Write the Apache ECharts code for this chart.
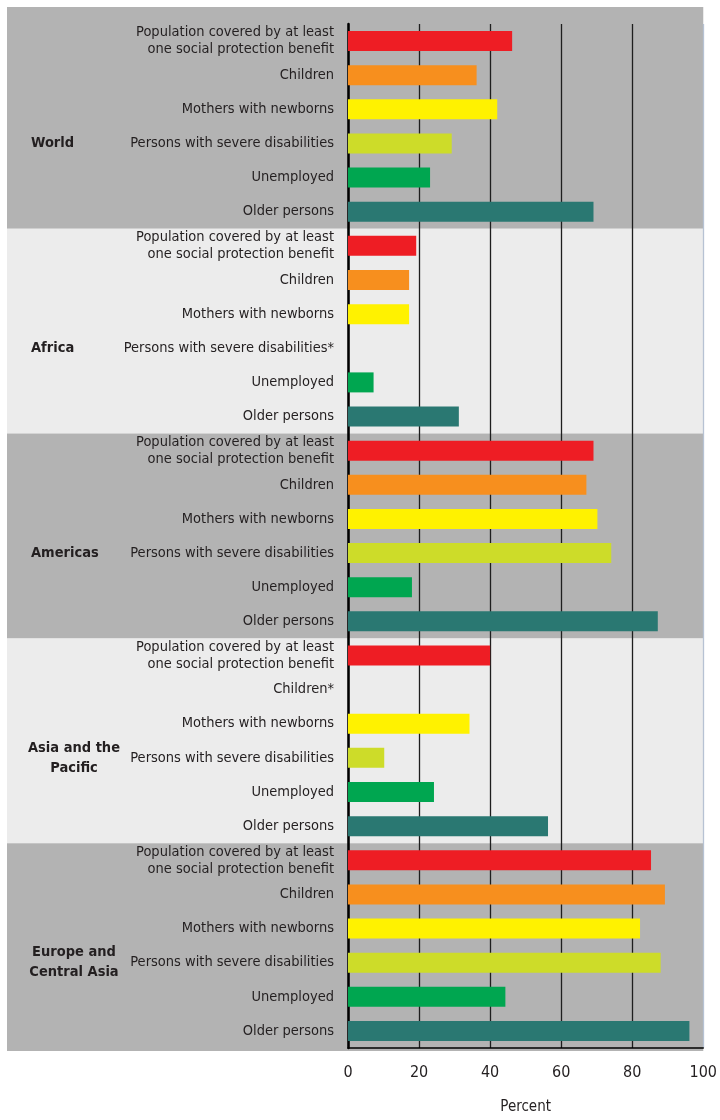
<!DOCTYPE html>
<html>
<head>
<meta charset="utf-8">
<script src="https://cdn.jsdelivr.net/npm/echarts@6/dist/echarts.min.js"></script>
<style>
  html, body { margin: 0; padding: 0; background: #ffffff; }
  #chart { width: 720px; height: 1120px; }
</style>
</head>
<body>
<div id="chart"></div>
<script>
// ---- Data ----
const groups = ['World', 'Africa', 'Americas', 'Asia and the\nPacific', 'Europe and\nCentral Asia'];
const indicators = [
  'Population covered by at least\none social protection benefit',
  'Children',
  'Mothers with newborns',
  'Persons with severe disabilities',
  'Unemployed',
  'Older persons'
];
// labels that carry an asterisk (no data)
const starred = { 'Africa|3': true, 'Asia and the\nPacific|1': true };

const worldValues    = [46.2, 36.2, 42.0, 29.2, 23.1, 69.1];
const africaValues   = [19.2, 17.2, 17.2, null, 7.2, 31.2];
const americasValues = [69.1, 67.1, 70.2, 74.1, 18.0, 87.2];
const asiaValues     = [40.0, null, 34.2, 10.2, 24.2, 56.3];
const europeValues   = [85.3, 89.2, 82.2, 88.0, 44.3, 96.1];
const groupValues = [worldValues, africaValues, americasValues, asiaValues, europeValues];

const xTicks = [0, 20, 40, 60, 80, 100];

// ---- Styles ----
const barColors = ['#ee1d24', '#f78f1e', '#fff200', '#cddc29', '#00a650', '#2a7872'];
const bandColors = ['#b3b3b3', '#ececec', '#b3b3b3', '#ececec', '#b3b3b3'];
const FONT = "'DejaVu Sans Condensed', 'Liberation Sans Narrow', sans-serif";
const TEXT = '#231f20';

// ---- Build categories and series data ----
const categories = [];
const labelMap = {};
const barData = [];
groups.forEach((g, gi) => {
  indicators.forEach((ind, k) => {
    const key = g + '|' + k;
    categories.push(key);
    labelMap[key] = ind + (starred[key] ? '*' : '');
    const v = groupValues[gi][k];
    barData.push({ value: v, itemStyle: { color: barColors[k] } });
  });
});
const bandData = groups.map((g, gi) => [0, gi * indicators.length, gi]);

const chart = echarts.init(document.getElementById('chart'), null, { renderer: 'canvas' });

const option = {
  backgroundColor: '#ffffff',
  animation: false,
  grid: { left: 348, right: 14, top: 24, bottom: 65, containLabel: false },
  xAxis: {
    type: 'value',
    min: xTicks[0],
    max: xTicks[xTicks.length - 1],
    interval: xTicks[1] - xTicks[0],
    name: 'Percent',
    nameLocation: 'middle',
    nameGap: 52,
    nameTextStyle: { fontFamily: FONT, fontSize: 15, color: TEXT },
    axisLine: { show: true, lineStyle: { color: '#000', width: 1.5 } },
    axisTick: { show: false },
    axisLabel: { fontFamily: FONT, fontSize: 16, color: TEXT, margin: 17 },
    splitLine: {
      show: true,
      lineStyle: { color: ['#1e1e1e', '#1e1e1e', '#1e1e1e', '#1e1e1e', '#1e1e1e', '#b7c2d3'], width: 1.3 }
    }
  },
  yAxis: {
    type: 'category',
    data: categories,
    inverse: true,
    axisLine: { show: true, lineStyle: { color: '#000', width: 2.5 } },
    axisTick: { show: false },
    splitLine: { show: false },
    axisLabel: {
      fontFamily: FONT,
      fontSize: 14.5,
      color: TEXT,
      margin: 14,
      lineHeight: 17,
      interval: 0,
      formatter: (v) => labelMap[v]
    }
  },
  series: [
    {
      type: 'custom',
      z: -1,
      clip: false,
      silent: true,
      encode: { x: 0, y: 1 },
      data: bandData,
      renderItem: (params, api) => {
        const gi = api.value(2);
        const start = gi * indicators.length;
        const end = start + indicators.length - 1;
        const cs = params.coordSys;
        const h = api.size([0, 1])[1];
        let top = api.coord([0, start])[1] - h / 2;
        let bottom = api.coord([0, end])[1] + h / 2;
        if (gi === 0) top = cs.y - 17;
        if (gi === groups.length - 1) bottom = cs.y + cs.height + 3;
        const left = cs.x - 341;
        const right = cs.x + cs.width;
        const midY = api.coord([0, start + indicators.length / 2 - 0.5])[1];
        const label = groups[gi];
        const multi = label.indexOf('\n') >= 0;
        return {
          type: 'group',
          children: [
            {
              type: 'rect',
              shape: { x: left, y: top, width: right - left, height: bottom - top },
              style: { fill: bandColors[gi] }
            },
            {
              type: 'text',
              style: {
                text: label,
                x: multi ? left + 67 : left + 24,
                y: midY,
                align: multi ? 'center' : 'left',
                verticalAlign: 'middle',
                fontFamily: FONT,
                fontSize: 14.5,
                fontWeight: 'bold',
                lineHeight: 20,
                fill: TEXT
              }
            }
          ]
        };
      }
    },
    {
      type: 'bar',
      data: barData,
      barWidth: 20,
      z: 2
    }
  ]
};
chart.setOption(option);
</script>
</body>
</html>
